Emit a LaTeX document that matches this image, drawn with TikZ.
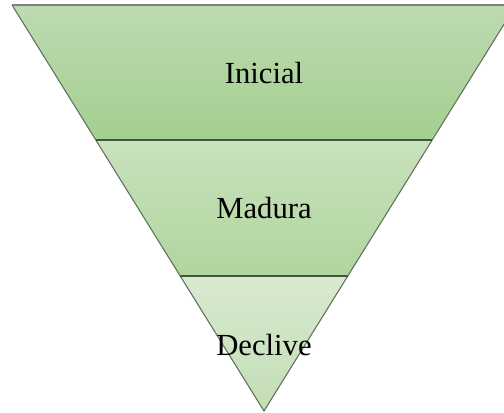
\documentclass[tikz,border=0pt]{standalone}
\usepackage{fontspec}
\setmainfont{Liberation Serif}
\definecolor{bandedge}{RGB}{98,112,92}
\definecolor{splitedge}{RGB}{68,84,62}
\definecolor{topA}{RGB}{190,218,178}
\definecolor{topB}{RGB}{163,207,143}
\definecolor{midA}{RGB}{201,226,189}
\definecolor{midB}{RGB}{176,213,158}
\definecolor{lowA}{RGB}{216,233,208}
\definecolor{lowB}{RGB}{195,222,182}
\tikzset{
  band/.style={draw=bandedge, line width=0.8pt},
  split/.style={draw=splitedge, line width=1pt},
  label/.style={font=\fontsize{23}{27}\selectfont, inner sep=0pt, anchor=base}
}
\begin{document}
\begin{tikzpicture}[x=0.75pt,y=-0.75pt]
      \useasboundingbox (0,0) rectangle (504,412);
      \clip (0,0) rectangle (504,412);
      % three bands of the funnel
      \shade[top color=topA, bottom color=topB] (12,5) -- (516,5) -- (432,140) -- (96,140) -- cycle;
      \shade[top color=midA, bottom color=midB] (96,140) -- (432,140) -- (348,276) -- (180,276) -- cycle;
      \shade[top color=lowA, bottom color=lowB] (180,276) -- (348,276) -- (264,411) -- cycle;
      \draw[band] (12,5) -- (264,411) -- (516,5);
      \draw[split] (96,140) -- (432,140)
                   (180,276) -- (348,276);
      \draw[gray, line width=1.2pt] (12,5) -- (516,5);
      \node (inicial) [label] at (264,83) {Inicial};
      \node (madura) [label] at (264,218) {Madura};
      \node (declive) [label] at (264,355) {Declive};
\end{tikzpicture}
\end{document}
